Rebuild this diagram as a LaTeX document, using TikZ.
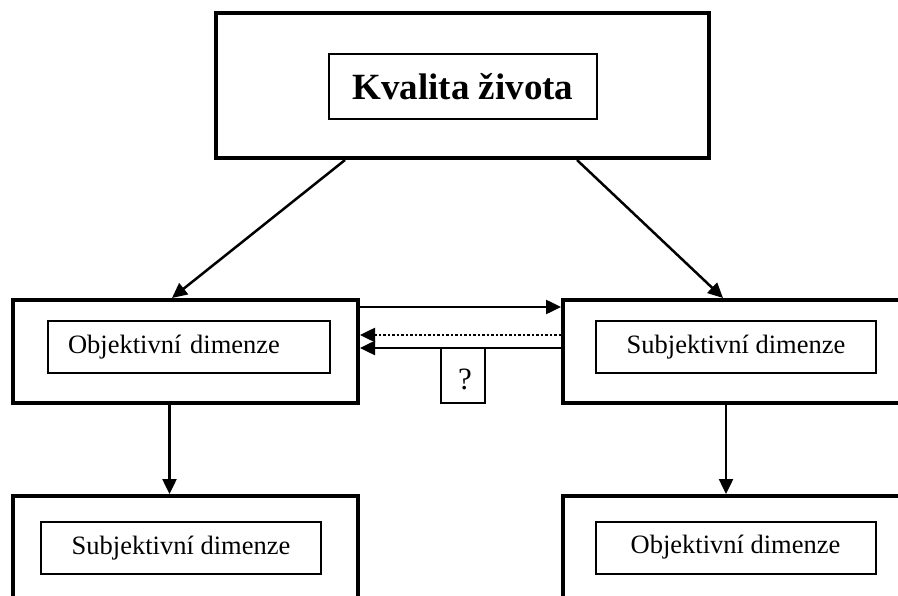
\documentclass[tikz,border=0pt]{standalone}
\usepackage{fontspec}
\setmainfont{Liberation Serif}
\usetikzlibrary{arrows.meta}

\begin{document}
\begin{tikzpicture}[>={Triangle[length=15pt,width=14pt]},x=1pt,y=-1pt,
    outerbox/.style={draw,line width=4pt,minimum width=345pt,minimum height=103pt,inner sep=0pt},
    innerbox/.style={draw,line width=2pt,minimum width=280pt,minimum height=52pt,inner sep=0pt,font=\fontsize{26.5}{30}\selectfont},
    arr/.style={line width=2.5pt}]
    \useasboundingbox (0,0) rectangle (898,596);
    \clip (0,0) rectangle (898,596);
    % horni blok
    \node[outerbox,minimum width=493pt,minimum height=145pt] (kz) at (462.5,85.5) {};
    \node[innerbox,minimum width=268pt,minimum height=65pt,font=\fontsize{37}{40}\selectfont\bfseries] (kzin) at (463,86.5) {Kvalita života};
    % prostredni rada
    \node[outerbox] (obj) at (185.5,351.5) {};
    \node[innerbox,minimum width=282pt,text width=242pt,align=left,inner xsep=20pt] (objin) at (189,347.5) {Objektivní dimenze};
    \node[outerbox] (subj) at (735.5,351.5) {};
    \node[innerbox] (subjin) at (736,347) {Subjektivní dimenze};
    \node[draw,line width=2pt,minimum width=44pt,minimum height=55pt,inner sep=0pt] (q) at (463,375.5) {};
    \node[font=\fontsize{31}{33}\selectfont,inner sep=0pt] (qtext) at (465,379) {?};
    % dolni rada
    \node[outerbox] (subjB) at (185.5,547.5) {};
    \node[innerbox] (subjBin) at (181,548) {Subjektivní dimenze};
    \node[outerbox] (objB) at (735.5,547.5) {};
    \node[innerbox] (objBin) at (735.5,547.5) {Objektivní dimenze};
    % sipky
    \draw[arr,->] ([xshift=-117.5pt]kz.south) -- ([xshift=-13.5pt]obj.north);
    \draw[arr,->] ([xshift=114.5pt]kz.south) -- ([xshift=-12.5pt]subj.north);
    \draw[arr,->] ([yshift=44.5pt]obj.east) -- ([yshift=44.5pt]subj.west);
    \draw[arr,<-,dash pattern=on 2.5pt off 2pt] ([yshift=16.5pt]obj.east) -- ([yshift=16.5pt]subj.west);
    \draw[arr,<-] ([yshift=3.5pt]obj.east) -- ([yshift=3.5pt]subj.west);
    \draw[arr,->] ([xshift=-16pt]obj.south) -- ([xshift=-16pt]subjB.north);
    \draw[arr,->] ([xshift=-9.5pt]subj.south) -- ([xshift=-9.5pt]objB.north);
\end{tikzpicture}
\end{document}
